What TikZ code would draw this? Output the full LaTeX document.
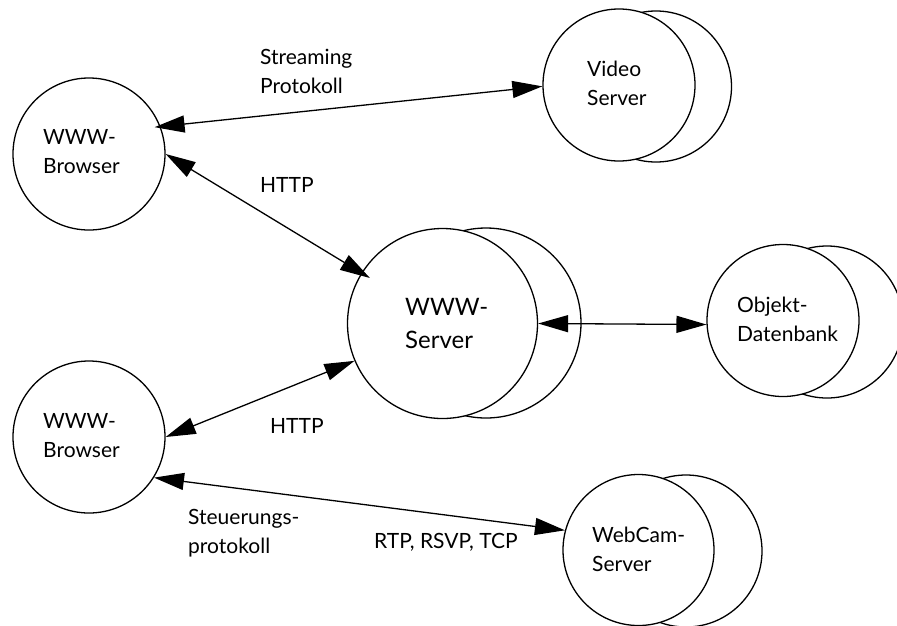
\documentclass[tikz,border=0pt]{standalone}
\usepackage{fontspec}
\setmainfont{Lato}
\usetikzlibrary{arrows.meta}
\tikzset{
  unit/.style={draw, circle, inner sep=0pt, line width=1.3pt, fill=white},
  lbl/.style={anchor=base west, inner sep=0pt, align=left,
              font=\fontsize{21}{29}\selectfont},
  biglbl/.style={anchor=base west, inner sep=0pt, align=left,
              font=\fontsize{24}{33}\selectfont},
  link/.style={line width=1.3pt,
    {Triangle[length=30pt,width=17pt]}-{Triangle[length=30pt,width=17pt]}}
}
\begin{document}
\begin{tikzpicture}[x=1pt, y=-1pt]
\useasboundingbox (0,0) rectangle (897,625);

% clients
\node[unit, minimum size=152pt] (bt) at (89,154) {};
\node[unit, minimum size=152pt] (bb) at (89,437) {};

% servers: a back circle, then the front circle on top
\node[unit, minimum size=151pt] (vsback) at (656,86.5) {};
\node[unit, minimum size=152pt] (vs) at (619,85) {};

\node[unit, minimum size=190pt] (wsback) at (486,323) {};
\node[unit, minimum size=190pt] (ws) at (442.5,323.5) {};

\node[unit, minimum size=152pt] (dbback) at (827,322) {};
\node[unit, minimum size=152pt] (db) at (783,320.5) {};

\node[unit, minimum size=152pt] (wcback) at (686,551) {};
\node[unit, minimum size=151pt] (wc) at (638.5,550) {};

% texts inside the circles (anchored at the baseline of the last line)
\node[lbl] (tbt) at (43,173) {WWW-\\Browser};
\node[lbl] (tbb) at (43,457) {WWW-\\Browser};
\node[lbl] (tvs) at (587,105) {Video\\Server};
\node[biglbl] (tws) at (405,348) {WWW-\\Server};
\node[lbl] (tdb) at (737,341) {Objekt-\\Datenbank};
\node[lbl] (twc) at (592,571) {WebCam-\\Server};

% connections
\draw[link, shorten <=-6pt] (bt.21) -- (vs.181);
\draw[link, shorten >=-10pt] (bt.0) -- (ws.148);
\draw[link] (bb.0) -- (ws.203);
\draw[link] (ws.0) -- (db.183);
\draw[link] (bb.-32) -- (wc.165);

% connection labels
\node[lbl] (lstream) at (260,93) {Streaming\\Protokoll};
\node[lbl] (lhttp1) at (260,192) {HTTP};
\node[lbl] (lhttp2) at (270,433) {HTTP};
\node[lbl] (lsteuer) at (188,553) {Steuerungs-\\protokoll};
\node[lbl] (lrtp) at (374,548) {RTP, RSVP, TCP};
\end{tikzpicture}
\end{document}
